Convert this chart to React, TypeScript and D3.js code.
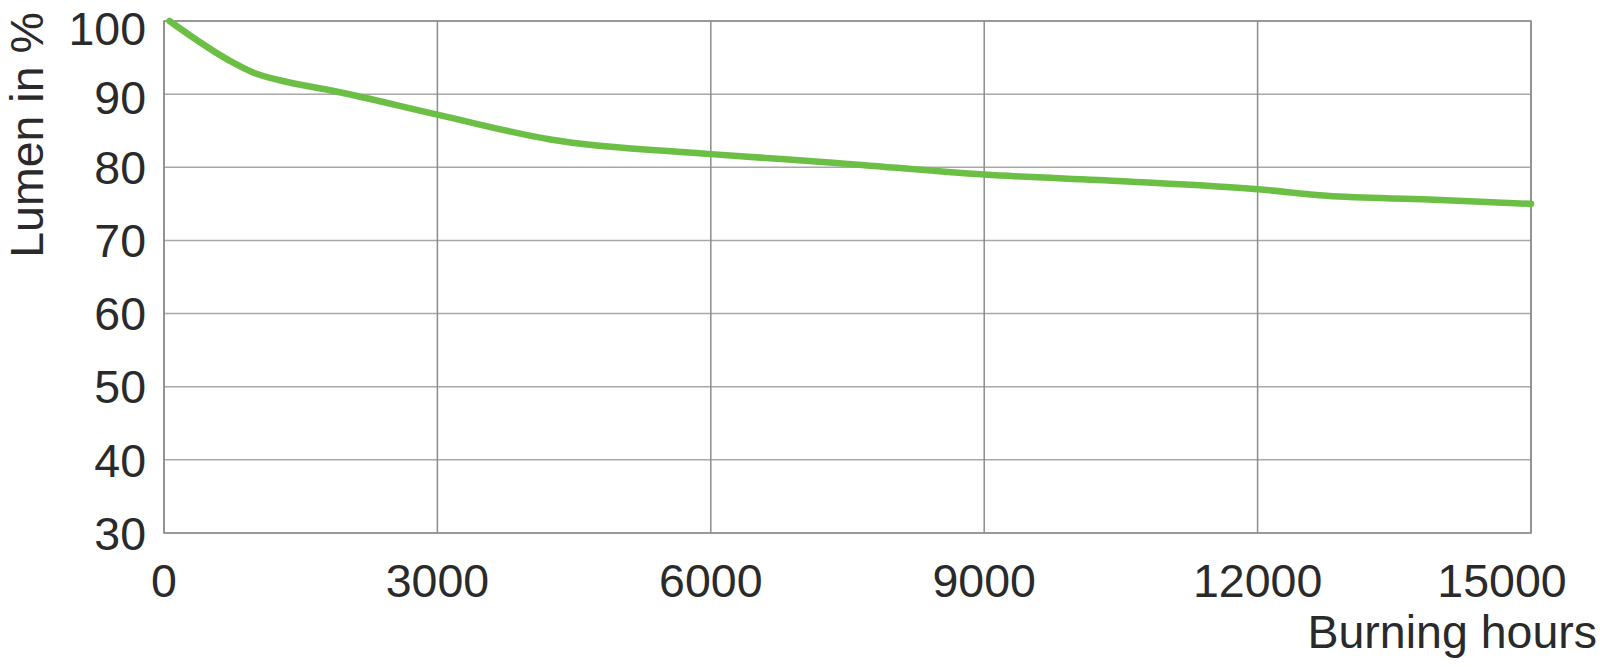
import React from "react";
import * as d3 from "d3";

const hours = [60, 760, 990, 1270, 1880, 3000, 4240, 6000, 7380, 9000, 10520, 12000, 12760, 13880, 15000];
const lumen = [100, 94.3, 92.9, 91.9, 90.4, 87.2, 83.8, 81.8, 80.6, 79.0, 78.1, 77.0, 76.1, 75.6, 75.0];
const xTicks = [0, 3000, 6000, 9000, 12000, 15000];
const yTicks = [30, 40, 50, 60, 70, 80, 90, 100];
const xTitle = "Burning hours";
const yTitle = "Lumen in %";

const W = 1600, H = 667;
const L = 164, R = 1531, T = 21, B = 533;

export default function App() {
  const x = d3.scaleLinear().domain([0, 15000]).range([L, R]);
  const y = d3.scaleLinear().domain([30, 100]).range([B, T]);
  const pts = hours.map((h, i) => [h, lumen[i]] as [number, number]);
  const line = d3.line<[number, number]>().x(d => x(d[0])).y(d => y(d[1])).curve(d3.curveMonotoneX);
  const font = "'Liberation Sans', Arial, Helvetica, sans-serif";
  const textColor = "#2a2a2a";
  const grid = "#a8a8a8";
  const fs = 46.5;
  return (
    <svg width={W} height={H} style={{ position: "absolute", left: 0, top: 0, background: "#fff" }} fontFamily={font}>
      {yTicks.map(t => (
        <line key={"gy" + t} x1={L} x2={R} y1={y(t)} y2={y(t)} stroke={grid} strokeWidth={1.5} />
      ))}
      {xTicks.map(t => (
        <line key={"gx" + t} x1={x(t)} x2={x(t)} y1={T} y2={B} stroke="#8c8c8c" strokeWidth={1.5} />
      ))}
      <rect x={L} y={T} width={R - L} height={B - T} fill="none" stroke="#8c8c8c" strokeWidth={1.5} />
      <path d={line(pts) || ""} fill="none" stroke="#6cbf45" strokeWidth={6.5} strokeLinecap="round" strokeLinejoin="round" />
      {yTicks.map(t => (
        <text key={"ty" + t} x={146} y={y(t) + (t === 100 ? 7 : t === 90 ? 3 : 0)} dy="0.36em" textAnchor="end" fontSize={fs} fill={textColor}>
          {t}
        </text>
      ))}
      {xTicks.map(t => (
        <text key={"tx" + t} x={x(t) + (t === 15000 ? -29 : 0)} y={597} textAnchor="middle" fontSize={fs} fill={textColor}>
          {t}
        </text>
      ))}
      <text x={1597} y={648} textAnchor="end" fontSize={fs} fill={textColor}>{xTitle}</text>
      <text transform="translate(43,135) rotate(-90)" textAnchor="middle" fontSize={fs} fill={textColor}>{yTitle}</text>
    </svg>
  );
}
